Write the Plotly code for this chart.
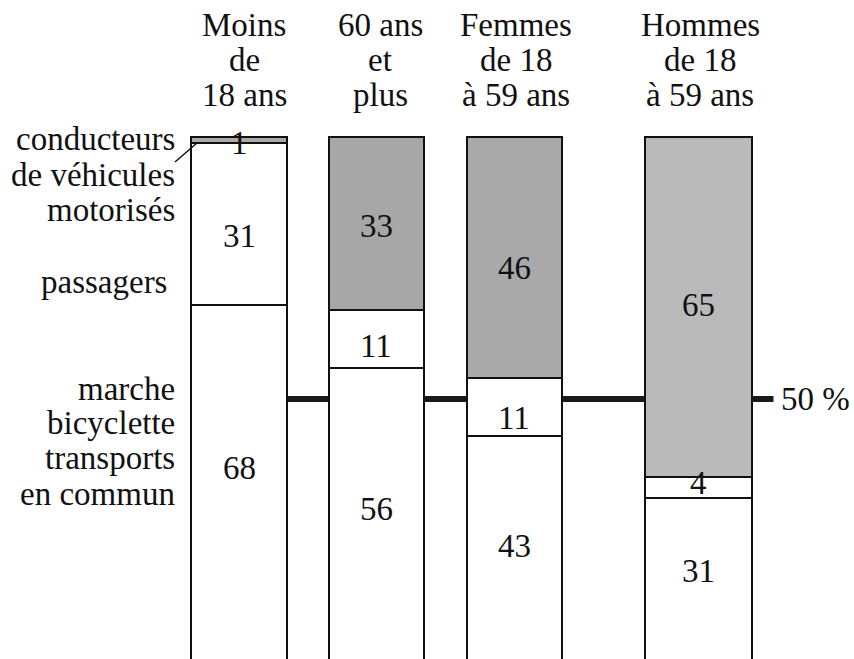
import plotly.graph_objects as go

# ---- data ----
groups = [["Moins", "de", "18 ans"],
          ["60 ans", "et", "plus"],
          ["Femmes", "de 18", "à 59 ans"],
          ["Hommes", "de 18", "à 59 ans"]]
marche = [68, 56, 43, 31]       # marche, bicyclette, transports en commun
passagers = [31, 11, 11, 4]
conducteurs = [1, 33, 46, 65]
ref_level = 50
ref_label = "50 %"
label_conducteurs = ["conducteurs", "de véhicules", "motorisés"]
label_passagers = ["passagers"]
label_marche = ["marche", "bicyclette", "transports", "en commun"]

# ---- layout constants (pixel-like x units) ----
W, H = 854, 659
bar_x = [239, 376, 514, 698]
bar_w = [96, 95, 95, 107]
gray = ["#a9a9a9", "#a7a7a7", "#a9a9a9", "#bababa"]
FONT = "Liberation Serif"
FS = 33
Y0, Y1 = 0.3, 126.25


def py(px):
    """pixel row -> paper y"""
    return 1 - px / H


fig = go.Figure()
line = dict(color="#111111", width=2)
fig.add_trace(go.Bar(x=bar_x, y=marche, width=bar_w,
                     marker=dict(color="white", line=line), hoverinfo="skip"))
fig.add_trace(go.Bar(x=bar_x, y=passagers, width=bar_w,
                     marker=dict(color="white", line=line), hoverinfo="skip"))
fig.add_trace(go.Bar(x=bar_x, y=conducteurs, width=bar_w,
                     marker=dict(color=gray, line=line), hoverinfo="skip"))

ann = []
tf = dict(family=FONT, size=FS, color="#111111")

# value labels
nudges = [[15, -12, -3], [5, -7, -2], [2, -11, -10], [8, 5, 2]]
for i in range(4):
    segs = [marche[i], passagers[i], conducteurs[i]]
    base = 0
    for j, v in enumerate(segs):
        ann.append(dict(x=bar_x[i], y=base + v / 2, xref="x", yref="y",
                        text=str(v), showarrow=False, font=tf,
                        yshift=nudges[i][j]))
        base += v

# headers
head_x = [244, 380, 516, 700]
head_y = [25, 60, 95]
for i, g in enumerate(groups):
    for k, t in enumerate(g):
        ann.append(dict(x=head_x[i], y=py(head_y[k]), xref="x", yref="paper",
                        text=t, showarrow=False, font=tf,
                        xanchor="center", yanchor="middle"))

# left labels
for t, yy in zip(label_conducteurs, [139, 175, 210]):
    ann.append(dict(x=177, y=py(yy), xref="x", yref="paper", text=t,
                    showarrow=False, font=tf, xanchor="right", yanchor="middle"))
for t, yy in zip(label_passagers, [282]):
    ann.append(dict(x=169, y=py(yy), xref="x", yref="paper", text=t,
                    showarrow=False, font=tf, xanchor="right", yanchor="middle"))
for t, yy in zip(label_marche, [389, 423, 458, 494]):
    ann.append(dict(x=177, y=py(yy), xref="x", yref="paper", text=t,
                    showarrow=False, font=tf, xanchor="right", yanchor="middle"))

# 50 % label
ann.append(dict(x=779, y=ref_level, xref="x", yref="y", text=ref_label,
                showarrow=False, font=tf, xanchor="left", yanchor="middle"))

shapes = [
    dict(type="line", xref="x", yref="y",
         x0=bar_x[0] + bar_w[0] / 2, x1=bar_x[3] + bar_w[3] / 2 + 22,
         y0=ref_level, y1=ref_level,
         line=dict(color="#1a1a1a", width=6), layer="below"),
    dict(type="line", xref="x", yref="paper",
         x0=175, x1=197, y0=py(162), y1=py(143),
         line=dict(color="#111111", width=1.5)),
]

fig.update_layout(
    width=W, height=H,
    margin=dict(l=0, r=0, t=0, b=0),
    paper_bgcolor="white", plot_bgcolor="white",
    barmode="stack", showlegend=False,
    xaxis=dict(range=[0, W], visible=False, fixedrange=True),
    yaxis=dict(range=[Y0, Y1], visible=False, fixedrange=True),
    annotations=ann, shapes=shapes,
)

fig.write_html("out.html", config={"displayModeBar": False},
               post_script="document.body.style.margin='0';"
                           "document.body.style.overflow='hidden';")
